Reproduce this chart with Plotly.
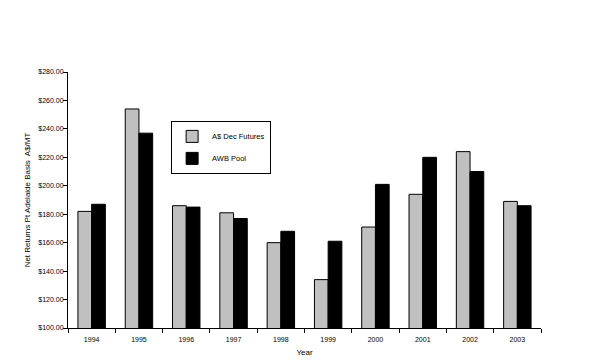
import plotly.graph_objects as go

years = ["1994", "1995", "1996", "1997", "1998", "1999", "2000", "2001", "2002", "2003"]
futures = [182, 254, 186, 181, 160, 134, 171, 194, 224, 189]
awb_pool = [187, 237, 185, 177, 168, 161, 201, 220, 210, 186]
y_ticks = [100, 120, 140, 160, 180, 200, 220, 240, 260, 280]
y_tick_labels = ["$%d.00" % v for v in y_ticks]

font_family = "Liberation Sans, Arial, sans-serif"

fig = go.Figure()
fig.add_trace(go.Bar(x=years, y=futures, name="A$ Dec Futures", legendgroup="a",
                     marker=dict(color="#C0C0C0", line=dict(color="#000000", width=1))))
fig.add_trace(go.Bar(x=years, y=awb_pool, name="AWB Pool", legendgroup="b",
                     marker=dict(color="#000000", line=dict(color="#000000", width=1))))

# page body has an 8px default margin, so the figure is 8px smaller/shifted
fig.update_layout(
    width=581, height=354,
    margin=dict(l=60, r=48, t=64, b=34, autoexpand=False),
    paper_bgcolor="white", plot_bgcolor="white",
    barmode="group", bargap=0.42, bargroupgap=0,
    font=dict(family=font_family, size=8, color="#000000"),
    showlegend=True,
    legend=dict(x=0.218, y=0.809, xanchor="left", yanchor="top",
                bordercolor="#000000", borderwidth=1, bgcolor="white",
                font=dict(size=7.5), tracegroupgap=3, itemwidth=30),
    xaxis=dict(type="category", tickson="boundaries", ticks="outside", ticklen=4,
               tickcolor="#000000", showline=True, linecolor="#000000", linewidth=1,
               showgrid=False, tickfont=dict(size=7), ticklabelstandoff=5,
               title=dict(text="Year", font=dict(size=8), standoff=6)),
    yaxis=dict(range=[100, 280], tickvals=y_ticks, ticktext=y_tick_labels,
               ticks="outside", ticklen=4, tickcolor="#000000",
               showline=True, linecolor="#000000", linewidth=1,
               showgrid=False, zeroline=False, tickfont=dict(size=7),
               ticklabelstandoff=-2,
               title=dict(text="Net Returns Pt Adelaide Basis  A$/MT", font=dict(size=8), standoff=6)),
)

fig.write_html("out.html")
